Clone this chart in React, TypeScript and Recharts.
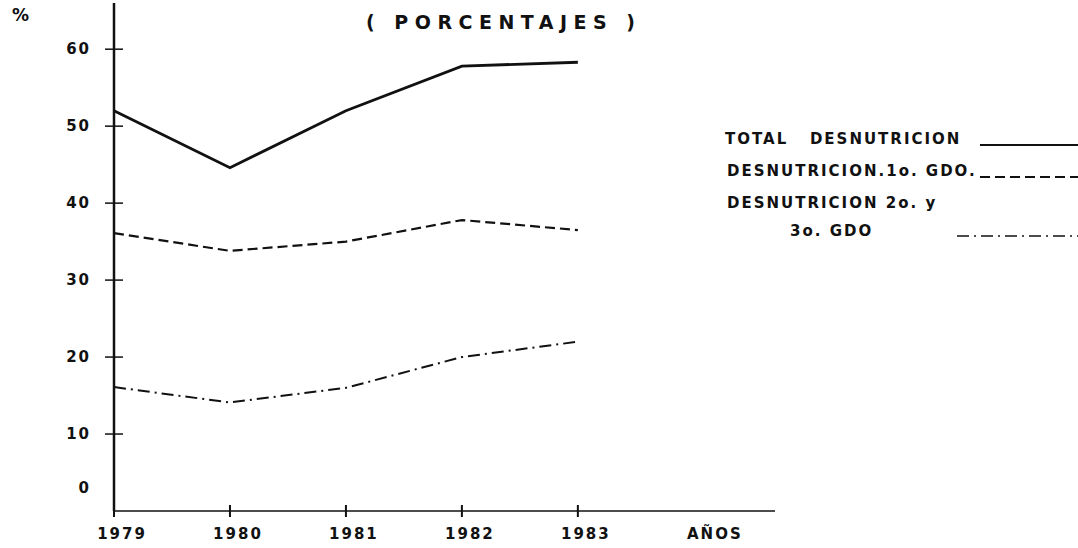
import { LineChart, Line, XAxis, YAxis, ReferenceLine } from 'recharts';

const years = [1979, 1980, 1981, 1982, 1983];
const total = [52, 44.6, 52, 57.8, 58.3];
const primerGrado = [36.1, 33.8, 35, 37.8, 36.5];
const segundoTercerGrado = [16.1, 14.1, 16, 20, 22];
const yTicks = [0, 10, 20, 30, 40, 50, 60];

const data = years.map((year, i) => ({
  year,
  total: total[i],
  primer: primerGrado[i],
  segundo: segundoTercerGrado[i],
}));

const font = '"DejaVu Sans", sans-serif';
const ink = '#111';

const YTick = (props: any) => {
  const { x, y, payload } = props;
  const isZero = payload.value === 0;
  return (
    <g>
      {!isZero && <line x1={x - 1} x2={x + 17} y1={y} y2={y} stroke={ink} strokeWidth={1.5} />}
      <text
        x={x - 15}
        y={isZero ? y - 23 : y}
        dy={5}
        textAnchor="end"
        fontFamily={font}
        fontWeight="bold"
        fontSize={15}
        letterSpacing={2}
        fill={ink}
      >
        {payload.value}
      </text>
    </g>
  );
};

const XTick = (props: any) => {
  const { x, y, payload } = props;
  return (
    <g>
      <line x1={x} x2={x} y1={y - 14} y2={y - 2} stroke={ink} strokeWidth={2} />
      <text
        x={x + 8}
        y={y + 20}
        textAnchor="middle"
        fontFamily={font}
        fontWeight="bold"
        fontSize={15}
        letterSpacing={2}
        fill={ink}
      >
        {payload.value}
      </text>
    </g>
  );
};

const textStyle: React.CSSProperties = {
  position: 'absolute',
  fontFamily: font,
  fontWeight: 'bold',
  fontSize: 15,
  letterSpacing: 2,
  color: ink,
  whiteSpace: 'pre',
  lineHeight: '18px',
};

const LegendLine = ({ x1, x2, y, dash, width }: { x1: number; x2: number; y: number; dash?: string; width: number }) => (
  <line x1={x1} x2={x2} y1={y} y2={y} stroke={ink} strokeWidth={width} strokeDasharray={dash} />
);

export default function App() {
  return (
    <div style={{ position: 'absolute', left: 0, top: 0, width: 1078, height: 548, background: '#fff' }}>
      <LineChart
        width={1078}
        height={548}
        data={data}
        margin={{ top: 3, right: 303, bottom: 0, left: 0 }}
      >
        <XAxis
          dataKey="year"
          type="number"
          domain={[1979, 1984.7]}
          ticks={years}
          tickLine={false}
          axisLine={false}
          tick={<XTick />}
          height={37}
        />
        <YAxis
          type="number"
          domain={[0, 66]}
          ticks={yTicks}
          tickLine={false}
          axisLine={{ stroke: ink, strokeWidth: 2.5 }}
          tick={<YTick />}
          width={114}
        />
        <ReferenceLine y={0} stroke={ink} strokeWidth={1.5} segment={[{ x: 1978.92, y: 0 }, { x: 1984.7, y: 0 }]} ifOverflow="visible" />
        <Line
          dataKey="total"
          type="linear"
          stroke={ink}
          strokeWidth={2.8}
          dot={false}
          isAnimationActive={false}
        />
        <Line
          dataKey="primer"
          type="linear"
          stroke={ink}
          strokeWidth={2.2}
          strokeDasharray="10 5"
          dot={false}
          isAnimationActive={false}
        />
        <Line
          dataKey="segundo"
          type="linear"
          stroke={ink}
          strokeWidth={2}
          strokeDasharray="12 5 2 5"
          dot={false}
          isAnimationActive={false}
        />
      </LineChart>

      <div style={{ ...textStyle, left: 12, top: 6, fontSize: 17 }}>%</div>
      <div style={{ ...textStyle, left: 366, top: 10, fontSize: 19, letterSpacing: 6.5, lineHeight: '24px' }}>( PORCENTAJES )</div>
      <div style={{ ...textStyle, left: 687, top: 525 }}>AÑOS</div>

      <div style={{ ...textStyle, left: 725, top: 130 }}>{'TOTAL   DESNUTRICION'}</div>
      <div style={{ ...textStyle, left: 727, top: 162 }}>DESNUTRICION.1o. GDO.</div>
      <div style={{ ...textStyle, left: 727, top: 194 }}>DESNUTRICION 2o. y</div>
      <div style={{ ...textStyle, left: 790, top: 222 }}>3o. GDO</div>

      <svg width={1078} height={548} style={{ position: 'absolute', left: 0, top: 0, pointerEvents: 'none' }}>
        <LegendLine x1={980} x2={1078} y={145} width={2} />
        <LegendLine x1={980} x2={1078} y={177} width={2} dash="10 5" />
        <LegendLine x1={957} x2={1078} y={236} width={1.6} dash="12 5 2 5" />
      </svg>
    </div>
  );
}
